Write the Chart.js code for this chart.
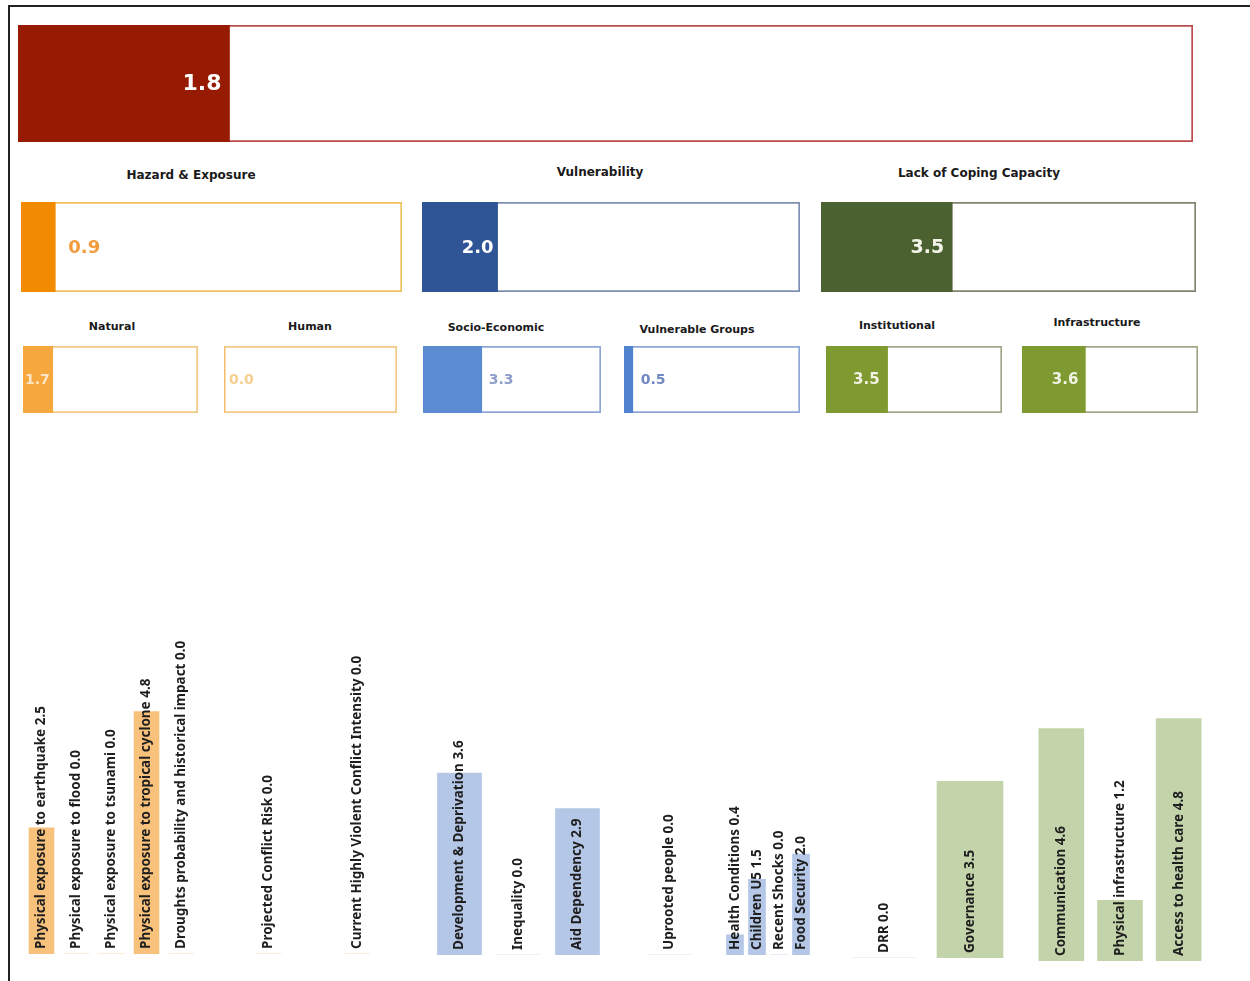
<!DOCTYPE html>
<html lang="en">
<head>
    <meta charset="UTF-8">
    <title>Risk profile</title>
    <script src="https://cdn.jsdelivr.net/npm/chart.js"></script>
    <style>
        body {
            margin: 0;
            background: #fff;
            font-family: "DejaVu Sans", sans-serif;
        }
        #page {
            position: relative;
            width: 1250px;
            height: 981px;
            overflow: hidden;
        }
        #frame {
            position: absolute;
            left: 8px;
            top: 5px;
            right: -10px;
            bottom: -10px;
            border-top: 2px solid #222;
            border-left: 2px solid #222;
        }
        .box, .bars {
            position: absolute;
        }
        .ttl {
            position: absolute;
            width: 300px;
            text-align: center;
            font-weight: bold;
            color: #1a1a1a;
            white-space: nowrap;
        }
    </style>
</head>
<body>
<div id="page"><div id="frame"></div></div>
<script>
    // scale of every index (0 - 10)
    const scaleMax = 10;

    // overall risk
    const riskValue = 1.8;

    // dimensions
    const dimensionNames = ['Hazard & Exposure', 'Vulnerability', 'Lack of Coping Capacity'];
    const dimensionValues = [0.9, 2.0, 3.5];

    // categories
    const categoryNames = ['Natural', 'Human', 'Socio-Economic', 'Vulnerable Groups', 'Institutional', 'Infrastructure'];
    const categoryValues = [1.7, 0.0, 3.3, 0.5, 3.5, 3.6];

    // components
    const naturalLabels = ['Physical exposure to earthquake', 'Physical exposure to flood', 'Physical exposure to tsunami',
        'Physical exposure to tropical cyclone', 'Droughts probability and historical impact'];
    const naturalValues = [2.5, 0.0, 0.0, 4.8, 0.0];
    const humanLabels = ['Projected Conflict Risk', 'Current Highly Violent Conflict Intensity'];
    const humanValues = [0.0, 0.0];
    const socioLabels = ['Development & Deprivation', 'Inequality', 'Aid Dependency'];
    const socioValues = [3.6, 0.0, 2.9];
    const uprootedLabels = ['Uprooted people'];
    const uprootedValues = [0.0];
    const otherGroupLabels = ['Health Conditions', 'Children U5', 'Recent Shocks', 'Food Security'];
    const otherGroupValues = [0.4, 1.5, 0.0, 2.0];
    const institutionalLabels = ['DRR', 'Governance'];
    const institutionalValues = [0.0, 3.5];
    const infrastructureLabels = ['Communication', 'Physical infrastructure', 'Access to health care'];
    const infrastructureValues = [4.6, 1.2, 4.8];

    const page = document.getElementById('page');

    // text with the value at the end of the coloured bar
    const valueLabel = {
        id: 'valueLabel',
        afterDatasetsDraw(chart, args, opts) {
            const bar = chart.getDatasetMeta(0).data[0];
            const ctx = chart.ctx;
            ctx.save();
            ctx.font = opts.font;
            ctx.fillStyle = opts.color;
            ctx.textBaseline = 'middle';
            let x;
            if (opts.pos === 'in') {
                ctx.textAlign = 'right';
                x = bar.x - opts.pad;
            } else {
                ctx.textAlign = 'left';
                x = bar.x + opts.pad;
            }
            ctx.fillText(chart.data.datasets[0].data[0].toFixed(1), x, bar.y + 1);
            ctx.restore();
        }
    };

    // rotated names written up from the foot of each column
    const columnText = {
        id: 'columnText',
        afterDatasetsDraw(chart) {
            const ctx = chart.ctx;
            const ds = chart.data.datasets[0];
            const bottom = chart.chartArea.bottom;
            ctx.save();
            ctx.font = 'bold 13.5px "Noto Sans", sans-serif';
            ctx.fillStyle = '#1e1e1e';
            ctx.textAlign = 'left';
            ctx.textBaseline = 'middle';
            chart.getDatasetMeta(0).data.forEach((el, i) => {
                ctx.save();
                ctx.translate(el.x, bottom - 5);
                ctx.rotate(-Math.PI / 2);
                ctx.fillText(chart.data.labels[i] + ' ' + ds.data[i].toFixed(1), 0, 0);
                ctx.restore();
            });
            ctx.restore();
        }
    };

    function addDiv(cls, left, top, width, height) {
        const d = document.createElement('div');
        d.className = cls;
        d.style.left = left + 'px';
        d.style.top = top + 'px';
        d.style.width = width + 'px';
        d.style.height = height + 'px';
        page.appendChild(d);
        return d;
    }

    function addTitle(text, cx, cy, size) {
        const t = document.createElement('div');
        t.className = 'ttl';
        t.textContent = text;
        t.style.fontSize = size + 'px';
        t.style.left = (cx - 150) + 'px';
        t.style.top = (cy - size * 0.6) + 'px';
        t.style.lineHeight = (size * 1.2) + 'px';
        page.appendChild(t);
    }

    function boxChart(value, b) {
        const d = addDiv('box', b.left, b.top, b.width, b.height);
        const cv = document.createElement('canvas');
        d.appendChild(cv);
        new Chart(cv, {
            type: 'bar',
            data: {
                labels: [''],
                datasets: [
                    { data: [value], backgroundColor: b.fill, borderWidth: 0, grouped: false,
                      barPercentage: 1, categoryPercentage: 1 },
                    { data: [scaleMax], backgroundColor: '#fff', borderColor: b.border, borderWidth: 2,
                      borderSkipped: false, grouped: false, barPercentage: 1, categoryPercentage: 1 }
                ]
            },
            options: {
                indexAxis: 'y',
                responsive: true,
                maintainAspectRatio: false,
                animation: false,
                layout: { padding: 0 },
                plugins: {
                    legend: { display: false },
                    tooltip: { enabled: false },
                    valueLabel: { font: b.font, color: b.text, pos: b.pos, pad: b.pad }
                },
                scales: {
                    x: { display: false, min: 0, max: scaleMax },
                    y: { display: false }
                }
            },
            plugins: [valueLabel]
        });
    }

    function columnChart(labels, values, g) {
        const h = 505;
        const d = addDiv('bars', g.left, g.base - h, g.width, h);
        const cv = document.createElement('canvas');
        d.appendChild(cv);
        new Chart(cv, {
            type: 'bar',
            data: {
                labels: labels,
                datasets: [{ data: values, backgroundColor: g.color, borderWidth: 0, barThickness: g.thick }]
            },
            options: {
                responsive: true,
                maintainAspectRatio: false,
                animation: false,
                layout: { padding: 0 },
                plugins: { legend: { display: false }, tooltip: { enabled: false } },
                scales: {
                    x: { display: false },
                    y: { display: false, min: 0, max: scaleMax }
                }
            },
            plugins: [columnText]
        });
    }

    // overall
    boxChart(riskValue, { left: 18, top: 25, width: 1175, height: 117, fill: '#971a02', border: '#bd4a4c',
        font: 'bold 22px "DejaVu Sans"', text: '#ffffff', pos: 'in', pad: 8 });

    // dimensions
    const dimBoxes = [
        { left: 21, top: 202, width: 381, height: 90, fill: '#f28a02', border: '#f0c25e',
          font: 'bold 18px "DejaVu Sans"', text: '#f29b3c', pos: 'out', pad: 13, tx: 191, ty: 175 },
        { left: 422, top: 202, width: 378, height: 90, fill: '#2f5596', border: '#7f8fb2',
          font: 'bold 18px "DejaVu Sans"', text: '#ffffff', pos: 'in', pad: 4, tx: 600, ty: 172 },
        { left: 821, top: 202, width: 375, height: 90, fill: '#4b6130', border: '#7f846f',
          font: 'bold 19px "DejaVu Sans"', text: '#f4f4ea', pos: 'in', pad: 8, tx: 979, ty: 173 }
    ];
    dimBoxes.forEach((b, i) => {
        addTitle(dimensionNames[i], b.tx, b.ty, 12);
        boxChart(dimensionValues[i], b);
    });

    // categories
    const catBoxes = [
        { left: 23, top: 346, width: 175, height: 67, fill: '#f6a73e', border: '#f3c987',
          font: 'bold 14px "DejaVu Sans"', text: '#fde6c6', pos: 'in', pad: 3, tx: 112, ty: 327 },
        { left: 224, top: 346, width: 173, height: 67, fill: '#f6a73e', border: '#f3c987',
          font: 'bold 14px "DejaVu Sans"', text: '#f6cf90', pos: 'out', pad: 5, tx: 310, ty: 327 },
        { left: 423, top: 346, width: 178, height: 67, fill: '#5b8bd0', border: '#8ea7d6',
          font: 'bold 14px "DejaVu Sans"', text: '#8c9dca', pos: 'out', pad: 7, tx: 496, ty: 328 },
        { left: 624, top: 346, width: 176, height: 67, fill: '#4f82cf', border: '#8ea7d6',
          font: 'bold 14px "DejaVu Sans"', text: '#7088c2', pos: 'out', pad: 8, tx: 697, ty: 330 },
        { left: 826, top: 346, width: 176, height: 67, fill: '#7f9a30', border: '#a3a78a',
          font: 'bold 15px "DejaVu Sans"', text: '#f1f2e4', pos: 'in', pad: 8, tx: 897, ty: 326 },
        { left: 1022, top: 346, width: 176, height: 67, fill: '#7f9a30', border: '#a3a78a',
          font: 'bold 15px "DejaVu Sans"', text: '#f1f2e4', pos: 'in', pad: 7, tx: 1097, ty: 323 }
    ];
    catBoxes.forEach((b, i) => {
        addTitle(categoryNames[i], b.tx, b.ty, 11);
        boxChart(categoryValues[i], b);
    });

    // components
    const hazardLight = '#f8c27c';
    const vulnLight = '#b5c7e6';
    const copingLight = '#c4d4aa';
    columnChart(naturalLabels, naturalValues, { left: 24, width: 175, base: 954, thick: 25, color: hazardLight });
    columnChart(humanLabels, humanValues, { left: 224, width: 178, base: 954, thick: 25, color: hazardLight });
    columnChart(socioLabels, socioValues, { left: 430, width: 177, base: 955, thick: 44, color: vulnLight });
    columnChart(uprootedLabels, uprootedValues, { left: 639, width: 60, base: 955, thick: 44, color: vulnLight });
    columnChart(otherGroupLabels, otherGroupValues, { left: 724, width: 88, base: 955, thick: 17, color: vulnLight });
    columnChart(institutionalLabels, institutionalValues, { left: 841, width: 172, base: 958, thick: 66, color: copingLight });
    columnChart(infrastructureLabels, infrastructureValues, { left: 1032, width: 176, base: 961, thick: 45, color: copingLight });
</script>
</body>
</html>
